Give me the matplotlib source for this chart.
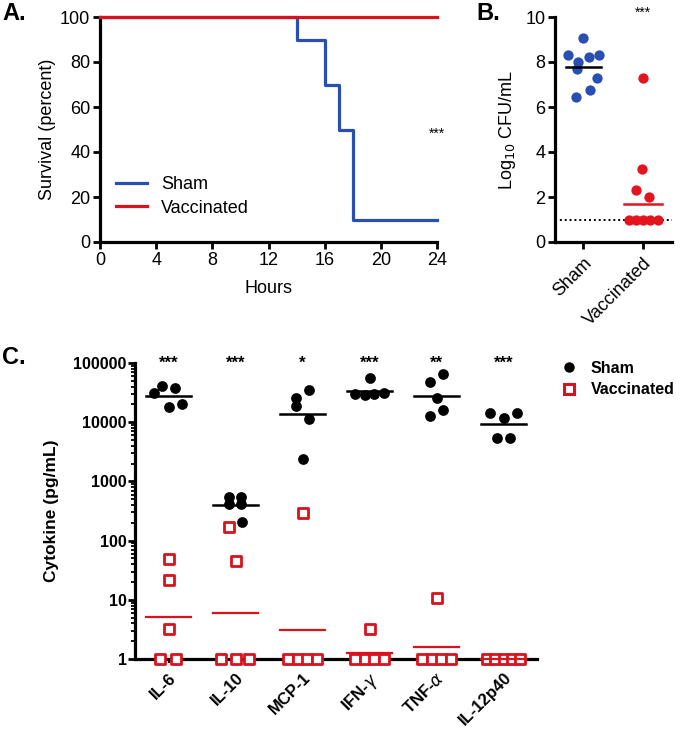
import matplotlib
matplotlib.use("Agg")
import matplotlib.pyplot as plt
import numpy as np
from matplotlib.lines import Line2D
from matplotlib.ticker import LogLocator, NullFormatter, FixedLocator

plt.rcParams['font.family'] = ['Liberation Sans', 'DejaVu Sans']

# ---------------- Data ----------------
# Panel A: survival curves (step functions)
hours_sham = [0, 14, 16, 17, 18, 24]
surv_sham = [100, 90, 70, 50, 10, 10]
hours_vacc = [0, 24]
surv_vacc = [100, 100]
hour_ticks = [0, 4, 8, 12, 16, 20, 24]
surv_ticks = [0, 20, 40, 60, 80, 100]

# Panel B: log10 CFU/mL
b_groups = ["Sham", "Vaccinated"]
b_sham_vals = [9.06, 8.32, 7.98, 8.22, 8.32, 7.68, 7.27, 6.76, 6.46]
b_sham_jit = [0.0, -0.25, -0.08, 0.09, 0.26, -0.11, 0.23, 0.11, -0.12]
b_vacc_vals = [7.27, 3.25, 2.30, 2.00, 1, 1, 1, 1, 1]
b_vacc_jit = [0.0, -0.02, -0.12, 0.1, -0.24, -0.12, 0.0, 0.12, 0.24]
b_means = [7.76, 1.70]
b_detection_limit = 1.0

# Panel C: cytokines (pg/mL)
cytokines = ["IL-6", "IL-10", "MCP-1", "IFN-$\\gamma$", "TNF-$\\alpha$", "IL-12p40"]
c_sham_vals = [
    [31000, 40500, 38000, 17800, 20300],
    [540, 540, 410, 410, 205],
    [25700, 18600, 35400, 11300, 2400],
    [56000, 30000, 29000, 30000, 31000],
    [66000, 47000, 25600, 16300, 12800],
    [14300, 11700, 14300, 5500, 5500],
]
c_sham_jit = [
    [-0.21, -0.09, 0.10, 0.01, 0.20],
    [-0.10, 0.08, -0.10, 0.08, 0.10],
    [-0.10, -0.10, 0.10, 0.10, 0.0],
    [0.0, -0.21, -0.07, 0.07, 0.21],
    [0.10, -0.10, 0.0, 0.10, -0.10],
    [-0.20, 0.0, 0.20, -0.10, 0.10],
]
c_vacc_vals = [
    [49, 22, 3.2, 1, 1],
    [170, 45, 1, 1, 1],
    [295, 1, 1, 1, 1],
    [3.2, 1, 1, 1, 1],
    [10.7, 1, 1, 1, 1],
    [1, 1, 1, 1, 1],
]
c_vacc_jit = [
    [0.0, 0.0, 0.0, -0.12, 0.11],
    [-0.10, 0.0, -0.22, 0.0, 0.20],
    [0.0, -0.21, -0.07, 0.07, 0.21],
    [0.0, -0.21, -0.07, 0.07, 0.21],
    [0.0, -0.21, -0.07, 0.07, 0.21],
    [-0.24, -0.12, 0.0, 0.12, 0.24],
]
c_stars = ["***", "***", "*", "***", "**", "***"]
c_yticks = [1, 10, 100, 1000, 10000, 100000]

BLUE = "#2a4fb3"
RED = "#d9121e"
RED_B = "#e3141e"

# ---------------- Figure ----------------
W, H = 680, 742
fig = plt.figure(figsize=(W / 100, H / 100), dpi=100)

def ax_rect(x0, y0, x1, y1):
    return [x0 / W, 1 - y1 / H, (x1 - x0) / W, (y1 - y0) / H]

# ----- Panel A -----
axA = fig.add_axes(ax_rect(100, 17, 437, 242))
axA.step(hours_sham, surv_sham, where="post", color=BLUE, lw=2.3, clip_on=False, label="Sham", zorder=3)
axA.step(hours_vacc, surv_vacc, where="post", color=RED, lw=2.3, clip_on=False, label="Vaccinated", zorder=4)
axA.set_xlim(0, 24)
axA.set_ylim(0, 100)
axA.set_xticks(hour_ticks)
axA.set_yticks(surv_ticks)
for s in ["top", "right"]:
    axA.spines[s].set_visible(False)
for s in ["left", "bottom"]:
    axA.spines[s].set_linewidth(2.3)
axA.tick_params(width=2.0, length=5, labelsize=13, pad=2)
axA.set_xlabel("Hours", fontsize=13, labelpad=8)
axA.set_ylabel("Survival (percent)", fontsize=13, labelpad=3)
leg = axA.legend(loc="lower left", bbox_to_anchor=(0.0, 0.04), frameon=False, fontsize=13,
                 handlelength=1.7, handletextpad=0.8, labelspacing=0.35)
axA.text(24, 48, "***", ha="center", va="center", fontsize=10)
fig.text(2 / W, 1 - 14 / H, "A.", fontsize=17, fontweight="bold", ha="left", va="center")

# ----- Panel B -----
axB = fig.add_axes(ax_rect(555, 17, 672, 242))
axB.scatter(np.array(b_sham_jit) + 0, b_sham_vals, s=55, color=BLUE, zorder=3, clip_on=False, linewidths=0)
axB.scatter(np.array(b_vacc_jit) + 1, b_vacc_vals, s=55, color=RED_B, zorder=3, clip_on=False, linewidths=0)
axB.plot([-0.29, 0.29], [b_means[0]] * 2, color="black", lw=1.8, zorder=4)
axB.plot([1 - 0.32, 1 + 0.32], [b_means[1]] * 2, color=RED_B, lw=1.8, zorder=4)
axB.axhline(b_detection_limit, color="black", lw=1.4, ls=(0, (1, 1.5)), zorder=2)
axB.set_xlim(-0.47, 1.48)
axB.set_ylim(0, 10)
axB.set_yticks([0, 2, 4, 6, 8, 10])
axB.set_xticks([0, 1])
axB.set_xticklabels(b_groups, rotation=45, ha="right", rotation_mode="anchor")
for s in ["top", "right"]:
    axB.spines[s].set_visible(False)
for s in ["left", "bottom"]:
    axB.spines[s].set_linewidth(2.3)
axB.tick_params(width=2.0, length=5, labelsize=13, pad=2)
axB.tick_params(axis="x", pad=4)
axB.set_ylabel("Log$_{10}$ CFU/mL", fontsize=13, labelpad=5)
axB.text(1, 10.2, "***", ha="center", va="center", fontsize=10)
fig.text(476 / W, 1 - 14 / H, "B.", fontsize=17, fontweight="bold", ha="left", va="center")

# ----- Panel C -----
axC = fig.add_axes(ax_rect(135, 363, 537, 659))
axC.set_yscale("log")
for i in range(len(cytokines)):
    sv = np.array(c_sham_vals[i], dtype=float)
    vv = np.array(c_vacc_vals[i], dtype=float)
    axC.scatter(i + np.array(c_sham_jit[i]), sv, s=60, color="black", zorder=4, clip_on=False, linewidths=0)
    axC.scatter(i + np.array(c_vacc_jit[i]), vv, s=48, marker="s", facecolor="white",
                edgecolor=RED, linewidths=2.0, zorder=3, clip_on=False)
    gm_s = 10 ** np.mean(np.log10(sv))
    gm_v = 10 ** np.mean(np.log10(vv))
    axC.plot([i - 0.34, i + 0.34], [gm_s, gm_s], color="black", lw=1.8, zorder=5)
    axC.plot([i - 0.34, i + 0.34], [gm_v, gm_v], color=RED, lw=1.6, zorder=5, clip_on=False)
    axC.text(i, 1e5, c_stars[i], ha="center", va="center", fontsize=12, fontweight="bold")
axC.set_xlim(-0.5, 5.5)
axC.set_ylim(1, 1e5)
axC.yaxis.set_major_locator(FixedLocator(c_yticks))
axC.set_yticklabels([str(v) for v in c_yticks])
axC.yaxis.set_minor_locator(LogLocator(base=10, subs=np.arange(2, 10)))
axC.yaxis.set_minor_formatter(NullFormatter())
axC.set_xticks(range(len(cytokines)))
axC.set_xticklabels(cytokines, rotation=45, ha="right", rotation_mode="anchor")
for s in ["top", "right"]:
    axC.spines[s].set_visible(False)
for s in ["left", "bottom"]:
    axC.spines[s].set_linewidth(2.3)
axC.tick_params(axis="y", which="major", width=2.0, length=5, labelsize=11.5, pad=1)
axC.tick_params(axis="y", which="minor", width=1.3, length=3)
axC.tick_params(axis="x", width=1.5, length=3, labelsize=12, pad=5)
for lbl in axC.get_yticklabels() + axC.get_xticklabels():
    lbl.set_fontweight("bold")
axC.set_ylabel("Cytokine (pg/mL)", fontsize=12.5, fontweight="bold", labelpad=10)
fig.text(2 / W, 1 - 357 / H, "C.", fontsize=17, fontweight="bold", ha="left", va="center")

handles = [
    Line2D([], [], marker="o", ls="none", color="black", markersize=7.5, markeredgewidth=0),
    Line2D([], [], marker="s", ls="none", markerfacecolor="white", markeredgecolor=RED,
           markeredgewidth=2.2, markersize=7.5),
]
fig.legend(handles, ["Sham", "Vaccinated"], loc="upper left",
           bbox_to_anchor=(554 / W, 1 - 353 / H), frameon=False, borderpad=0,
           prop={"weight": "bold", "size": 11.5}, handletextpad=0.9, labelspacing=0.4,
           handlelength=0.9)

fig.savefig("out.png", dpi=100)
